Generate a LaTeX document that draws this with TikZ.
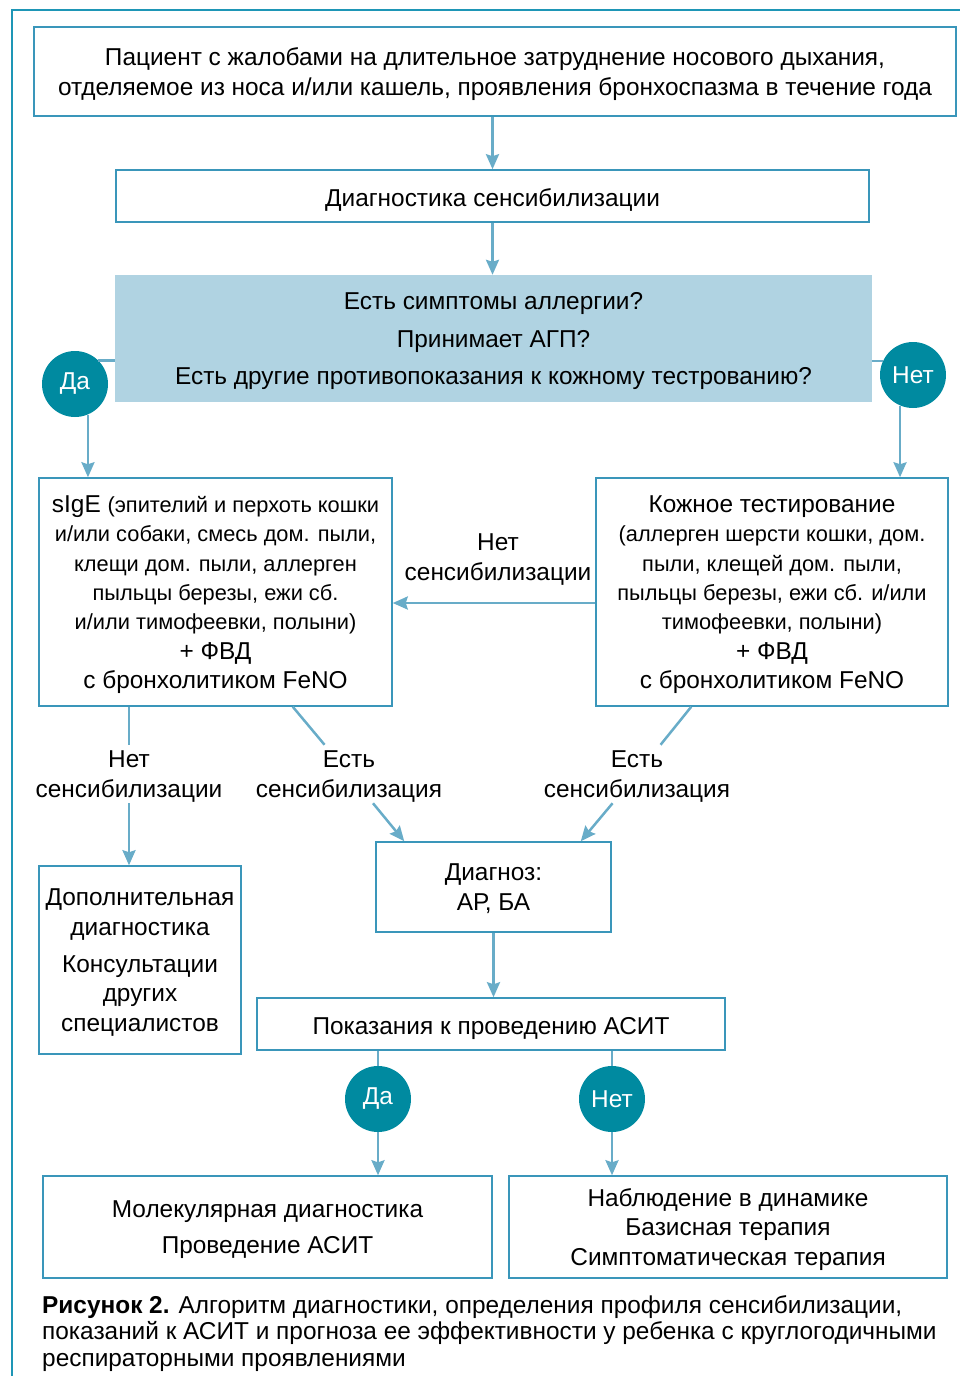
\documentclass[tikz,border=0pt]{standalone}
\usepackage{fontspec}
\setmainfont{Liberation Sans}
\usetikzlibrary{arrows.meta}
\definecolor{boxc}{RGB}{58,150,186}
\definecolor{arrc}{RGB}{104,172,200}
\definecolor{circc}{RGB}{0,138,160}
\definecolor{qfill}{RGB}{176,211,226}
\definecolor{framec}{RGB}{30,150,182}
\newcommand{\smallbox}{\fontsize{21.8}{29.3}\selectfont}

\begin{document}
\begin{tikzpicture}[x=1pt, y=-1pt,
  every node/.style={font=\fontsize{24.4}{29.3}\selectfont, align=center, inner sep=0pt},
  txt/.style={execute at begin node=\rule{0pt}{20pt}, text depth=-1pt},
  box/.style={txt, draw=boxc, line width=1.5pt},
  ans/.style={circle, fill=circc, text=white, minimum size=66pt},
  lbl/.style={txt, inner sep=6pt},
  ln/.style={draw=arrc, line width=2.5pt},
  arr/.style={ln, -{Stealth[length=15pt, width=13pt, inset=2pt]}}]
\useasboundingbox (0,0) rectangle (960,1376);
\draw[framec, line width=1.5pt] (12,1376) -- (12,10) -- (960,10);

\node[box, minimum width=922pt, minimum height=89pt] (pat) at (495,71.5)
  {Пациент с жалобами на длительное затруднение носового дыхания,\\
   отделяемое из носа и/или кашель, проявления бронхоспазма в течение года};
\node[box, minimum width=753pt, minimum height=52pt] (diag) at (492.5,196)
  {Диагностика сенсибилизации};
\node[txt, fill=qfill, minimum width=757pt, minimum height=127pt] (quest) at (493.5,338.5)
  {Есть симптомы аллергии?\\[8pt] Принимает АГП?\\[8pt]
   Есть другие противопоказания к кожному тестрованию?};
\node[ans] (da1) at (75,384) {Да};
\node[ans] (net1) at (913,375) {Нет};
\node[box, minimum width=353pt, minimum height=228pt] (sige) at (215.5,592)
  {sIgE {\smallbox(эпителий и перхоть кошки}\\
   {\smallbox и/или собаки, смесь дом. пыли,}\\
   {\smallbox клещи дом. пыли, аллерген}\\
   {\smallbox пыльцы березы, ежи сб.}\\
   {\smallbox и/или тимофеевки, полыни)}\\
   + ФВД\\ с бронхолитиком FeNO};
\node[box, minimum width=352pt, minimum height=228pt] (skin) at (772,592)
  {Кожное тестирование\\
   {\smallbox(аллерген шерсти кошки, дом.}\\
   {\smallbox пыли, клещей дом. пыли,}\\
   {\smallbox пыльцы березы, ежи сб. и/или}\\
   {\smallbox тимофеевки, полыни)}\\
   + ФВД\\ с бронхолитиком FeNO};
\node[lbl] (nosens) at (498,557) {Нет\\ сенсибилизации};
\node[lbl] (nosensL) at (129,774) {Нет\\ сенсибилизации};
\node[lbl] (sensL) at (349,774) {Есть\\ сенсибилизация};
\node[lbl] (sensR) at (637,774) {Есть\\ сенсибилизация};
\node[box, minimum width=235pt, minimum height=90pt] (dx) at (493.5,887)
  {Диагноз:\\ АР, БА};
\node[box, minimum width=202pt, minimum height=188pt] (extra) at (140,960)
  {Дополнительная\\ диагностика\\[8pt] Консультации\\ других\\ специалистов};
\node[box, minimum width=468pt, minimum height=52pt] (asit) at (491,1024)
  {Показания к проведению АСИТ};
\node[ans] (da2) at (378,1099) {Да};
\node[ans] (net2) at (612,1099) {Нет};
\node[box, minimum width=449pt, minimum height=102pt] (mol) at (267.5,1227)
  {Молекулярная диагностика\\[7pt] Проведение АСИТ};
\node[box, minimum width=438pt, minimum height=102pt] (obs) at (728,1227)
  {Наблюдение в динамике\\ Базисная терапия\\ Симптоматическая терапия};
\node[anchor=north west, align=left, font=\fontsize{24.4}{26.7}\selectfont] (cap) at (42,1295)
  {\textbf{Рисунок 2.} Алгоритм диагностики, определения профиля сенсибилизации,\\
   показаний к АСИТ и прогноза ее эффективности у ребенка с круглогодичными\\
   респираторными проявлениями};

\draw[arr] (diag.north |- pat.south) -- (diag.north);
\draw[arr] (diag.south) -- (diag.south |- quest.north);
\draw[ln] (da1.north east) -- (da1.north east -| quest.west);
\draw[ln] (net1.155) -- (net1.155 -| quest.east);
\draw[arr] (da1.-67) -- (da1.-67 |- sige.north);
\draw[arr] (net1.-113) -- (net1.-113 |- skin.north);
\draw[arr] ([yshift=-11pt]skin.west) -- ([yshift=-11pt]sige.west -| sige.east);
\draw[ln] (sige.south -| nosensL.north) -- (nosensL.north);
\draw[arr] (nosensL.south) -- (nosensL.south |- extra.north);
\draw[ln] ([xshift=-100pt]sige.south east) -- (sensL);
\draw[arr] (sensL) -- ([xshift=29pt]dx.north west);
\draw[ln] ([xshift=96pt]skin.south west) -- (sensR);
\draw[arr] (sensR) -- ([xshift=-31pt]dx.north east);
\draw[arr] (dx.south) -- (dx.south |- asit.north);
\draw[ln] (da2.north |- asit.south) -- (da2);
\draw[ln] (net2.north |- asit.south) -- (net2);
\draw[arr] (da2.south) -- (da2.south |- mol.north);
\draw[arr] (net2.south) -- (net2.south |- obs.north);
\end{tikzpicture}
\end{document}
